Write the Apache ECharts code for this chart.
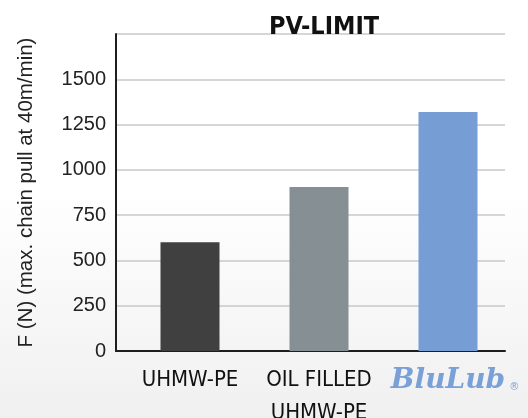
<!DOCTYPE html>
<html>
<head>
<meta charset="utf-8">
<script src="https://cdn.jsdelivr.net/npm/echarts@6/dist/echarts.min.js"></script>
<style>
html,body{margin:0;padding:0;}
body{background:linear-gradient(to bottom,#ffffff 0%,#ffffff 45%,#f0f0f0 100%);}
#c{width:528px;height:418px;}
</style>
</head>
<body>
<div id="c"></div>
<script>
const titleText = 'PV-LIMIT';
const yAxisName = 'F (N) (max. chain pull at 40m/min)';
const categories = ['UHMW-PE', 'OIL FILLED\nUHMW-PE', 'BluLub'];
const values = [600, 905, 1320];
const barColors = ['#404040', '#868f94', '#769ed4'];
const yMin = 0, yMax = 1750, yStep = 250;

const narrow = "'Liberation Sans Narrow', 'DejaVu Sans Condensed', 'Roboto', sans-serif";

const chart = echarts.init(document.getElementById('c'), null, {renderer: 'canvas'});
chart.setOption({
  backgroundColor: 'transparent',
  animation: false,
  title: {
    text: titleText,
    left: 319,
    top: 10,
    textAlign: 'center',
    textStyle: {fontFamily: narrow, fontWeight: 'bold', fontSize: 25, color: '#111'}
  },
  grid: [
    {left: 116, right: 23, top: 34, bottom: 67, outerBoundsMode: 'none', containLabel: false},
    {left: 125.5, right: 15.5, top: 34, bottom: 67, outerBoundsMode: 'none', containLabel: false}
  ],
  xAxis: [
    {
      gridIndex: 0, type: 'category', data: categories,
      axisLine: {show: true, lineStyle: {color: '#1e1e1e', width: 2}},
      axisTick: {show: false}, axisLabel: {show: false}, splitLine: {show: false}
    },
    {
      gridIndex: 1, type: 'category', data: categories,
      axisLine: {show: false}, axisTick: {show: false},
      axisLabel: {
        margin: 13,
        fontFamily: narrow,
        fontSize: 22, lineHeight: 33, color: '#111',
        interval: 0,
        formatter: function (v) {
          return v === 'BluLub' ? '{logo|BluLub}{reg|®}' : v;
        },
        rich: {
          logo: {fontFamily: 'DejaVu Serif', fontWeight: 'bold', fontStyle: 'italic', fontSize: 28, color: '#7aa0d8', lineHeight: 33, padding: [0, 0, 0, 14]},
          reg: {fontFamily: 'DejaVu Sans', fontSize: 10, color: '#7aa0d8', padding: [14, 0, 0, 4]}
        }
      }
    }
  ],
  yAxis: [
    {
      gridIndex: 0, type: 'value', min: yMin, max: yMax, interval: yStep,
      name: yAxisName, nameLocation: 'middle', nameGap: 79, nameRotate: 90,
      nameTextStyle: {fontFamily: 'Liberation Sans', fontSize: 20.5, color: '#222'},
      axisLine: {show: true, lineStyle: {color: '#1e1e1e', width: 2}},
      axisTick: {show: false},
      axisLabel: {
        margin: 10, fontFamily: 'Liberation Sans', fontSize: 20, color: '#222',
        formatter: function (v) { return v === yMax ? '' : String(v); }
      },
      splitLine: {show: true, lineStyle: {color: '#c8c8c8', width: 1.5}}
    },
    {
      gridIndex: 1, type: 'value', min: yMin, max: yMax, interval: yStep,
      show: false, splitLine: {show: false}
    }
  ],
  series: [{
    type: 'bar',
    xAxisIndex: 1, yAxisIndex: 1,
    barWidth: 59,
    data: values.map((v, i) => ({value: v, itemStyle: {color: barColors[i]}}))
  }]
});
</script>
</body>
</html>
